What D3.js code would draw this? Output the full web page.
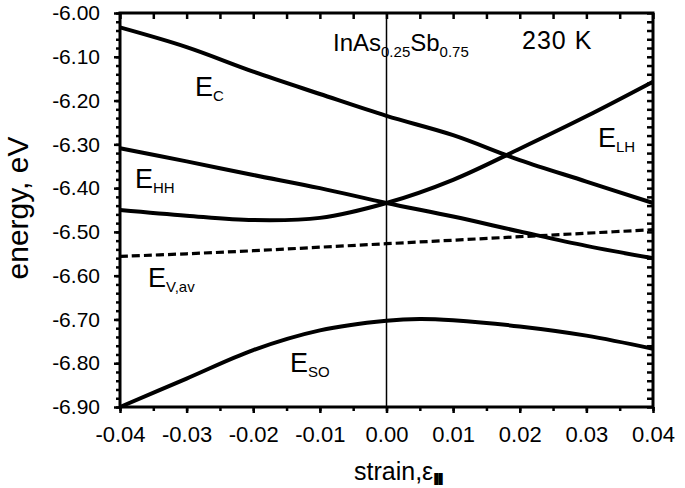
<!DOCTYPE html>
<meta charset="utf-8">
<script src="https://d3js.org/d3.v7.min.js"></script>
<style>
  body { margin: 0; background: #fff; }
  text { font-family: "Liberation Sans", Arial, sans-serif; fill: #000; }
</style>
<div id="chart"></div>
<script>
// strain values shared by most curves
const strain = [-0.04, -0.03, -0.02, -0.01, 0, 0.01, 0.02, 0.03, 0.04];
const eC   = [-6.033, -6.078, -6.134, -6.185, -6.235, -6.279, -6.336, -6.385, -6.434];
const eHH  = [-6.309, -6.339, -6.370, -6.400, -6.434, -6.465, -6.499, -6.532, -6.560];
const eLH  = [-6.450, -6.463, -6.473, -6.468, -6.434, -6.381, -6.310, -6.236, -6.157];
const eVav = [-6.556, -6.550, -6.543, -6.535, -6.527, -6.519, -6.511, -6.503, -6.495];
const soStrain = [-0.04, -0.03, -0.02, -0.01, 0, 0.005, 0.01, 0.02, 0.03, 0.04];
const eSO  = [-6.900, -6.835, -6.770, -6.725, -6.703, -6.699, -6.702, -6.716, -6.737, -6.767];

const xTicks = [-0.04, -0.03, -0.02, -0.01, 0, 0.01, 0.02, 0.03, 0.04];
const yTicks = [-6.0, -6.1, -6.2, -6.3, -6.4, -6.5, -6.6, -6.7, -6.8, -6.9];

const margin = {top: 13, right: 32, bottom: 81, left: 120},
      width = 685 - margin.left - margin.right,
      height = 488 - margin.top - margin.bottom;

const svg = d3.select("#chart").append("svg")
    .attr("width", 685).attr("height", 488)
  .append("g")
    .attr("transform", `translate(${margin.left},${margin.top})`);

const x = d3.scaleLinear().domain([-0.04, 0.04]).range([0, width]);
const y = d3.scaleLinear().domain([-6.9, -6.0]).range([height, 0]);

const fmt = d => d.toFixed(2);
const minorX = d3.range(-0.04, 0.0401, 0.005);
const minorY = d3.range(-6.9, -5.999, 0.02);

function styleAxis(g) {
  g.select(".domain").remove();
  g.selectAll("line").attr("stroke", "#000").attr("stroke-width", 2.5);
}

// bottom axis: minor + major ticks
svg.append("g").attr("transform", `translate(0,${height})`)
  .call(d3.axisBottom(x).tickValues(minorX).tickSize(4).tickFormat(""))
  .call(styleAxis);
svg.append("g").attr("transform", `translate(0,${height})`)
  .call(d3.axisBottom(x).tickValues(xTicks).tickSize(6).tickPadding(13).tickFormat(fmt))
  .call(styleAxis)
  .selectAll("text").style("font-size", "22px");

// top axis, ticks inward
svg.append("g")
  .call(d3.axisBottom(x).tickValues(minorX).tickSize(6).tickFormat(""))
  .call(styleAxis);

// left axis
svg.append("g")
  .call(d3.axisLeft(y).tickValues(minorY).tickSize(4).tickFormat(""))
  .call(styleAxis);
svg.append("g")
  .call(d3.axisLeft(y).tickValues(yTicks).tickSize(6).tickPadding(14).tickFormat(fmt))
  .call(styleAxis)
  .selectAll("text").style("font-size", "21px");

// right axis, ticks inward
svg.append("g").attr("transform", `translate(${width},0)`)
  .call(d3.axisLeft(y).tickValues(minorY).tickSize(6).tickFormat(""))
  .call(styleAxis);

// frame
svg.append("rect")
  .attr("width", width).attr("height", height)
  .attr("fill", "none").attr("stroke", "#000").attr("stroke-width", 3);

// zero strain line
svg.append("line")
  .attr("x1", x(0)).attr("x2", x(0)).attr("y1", 0).attr("y2", height)
  .attr("stroke", "#000").attr("stroke-width", 1.5);

const line = d3.line()
  .x(d => x(d[0])).y(d => y(d[1]))
  .curve(d3.curveCatmullRom);

const solid = [eC, eHH, eLH];
solid.forEach(s => {
  svg.append("path")
    .datum(strain.map((t, i) => [t, s[i]]))
    .attr("d", line)
    .attr("fill", "none").attr("stroke", "#000").attr("stroke-width", 4);
});
svg.append("path")
  .datum(soStrain.map((t, i) => [t, eSO[i]]))
  .attr("d", line)
  .attr("fill", "none").attr("stroke", "#000").attr("stroke-width", 4);
svg.append("path")
  .datum(strain.map((t, i) => [t, eVav[i]]))
  .attr("d", line)
  .attr("fill", "none").attr("stroke", "#000").attr("stroke-width", 3.2)
  .attr("stroke-dasharray", "8,4");

// curve labels
function label(px, py, main, sub, size) {
  const t = svg.append("text").attr("x", px - margin.left).attr("y", py - margin.top)
    .style("font-size", size + "px");
  t.append("tspan").text(main);
  t.append("tspan").text(sub).attr("dy", 5).style("font-size", "15px");
}
label(195, 96, "E", "C", 27);
label(135, 188, "E", "HH", 27);
label(598, 147, "E", "LH", 27);
label(148, 287, "E", "V,av", 27);
label(290, 372, "E", "SO", 27);

// material and temperature
const mat = svg.append("text").attr("x", 333 - margin.left).attr("y", 51 - margin.top)
  .style("font-size", "24px");
mat.append("tspan").text("InAs");
mat.append("tspan").text("0.25").attr("dy", 6).style("font-size", "15px");
mat.append("tspan").text("Sb").attr("dy", -6);
mat.append("tspan").text("0.75").attr("dy", 6).style("font-size", "15px");

svg.append("text").attr("x", 522 - margin.left).attr("y", 49 - margin.top)
  .style("font-size", "25px").style("letter-spacing", "1px")
  .text("230 K");

// axis titles
const xt = svg.append("text")
  .attr("x", 354 - margin.left).attr("y", 480 - margin.top)
  .style("font-size", "25px");
xt.append("tspan").text("strain,ε");
xt.append("tspan").text("II").attr("dy", 4).attr("dx", 1)
  .style("font-size", "15px").style("font-weight", "bold")
  .attr("stroke", "#000").attr("stroke-width", 2);

svg.append("text")
  .attr("transform", `translate(${28 - margin.left},${208 - margin.top}) rotate(-90)`)
  .attr("text-anchor", "middle")
  .style("font-size", "30px")
  .text("energy, eV");
</script>
